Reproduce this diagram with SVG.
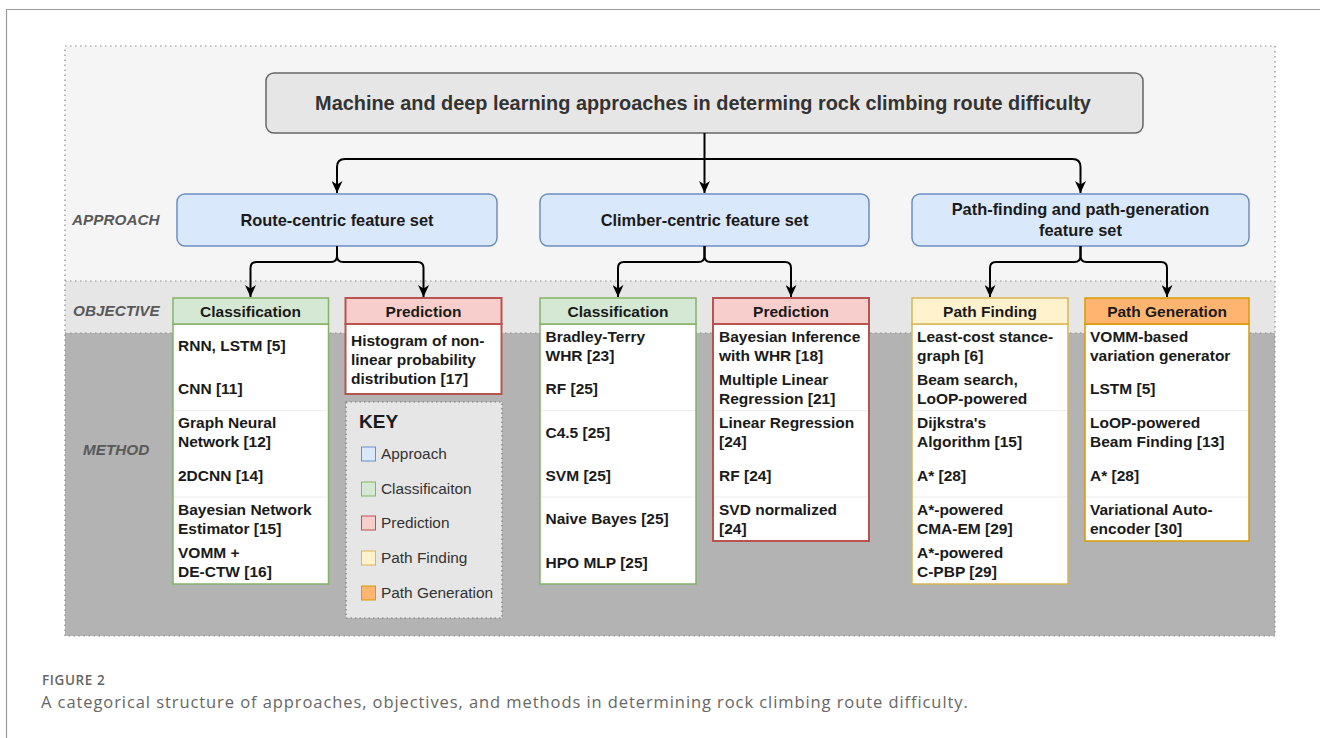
<svg xmlns="http://www.w3.org/2000/svg" width="1320" height="738" viewBox="0 0 1320 738">
<style>
.s{font-family:"Liberation Sans",Arial,sans-serif}
.t{font-family:"Liberation Sans",Arial,sans-serif;font-weight:bold;font-size:15.5px;fill:#1a1a1a}
.h{font-family:"Liberation Sans",Arial,sans-serif;font-weight:bold;font-size:15.5px;fill:#1a1a1a;text-anchor:middle}
.a{font-family:"Liberation Sans",Arial,sans-serif;font-weight:bold;font-size:16.4px;fill:#1a1a1a;text-anchor:middle}
.lvl{font-family:"Liberation Sans",Arial,sans-serif;font-weight:bold;font-style:italic;font-size:15.3px;fill:#595959}
.k{font-family:"Liberation Sans",Arial,sans-serif;font-size:15.4px;fill:#333}
.cap{font-family:"Open Sans",sans-serif}
.sep{stroke:#ececec;stroke-width:1}
.con{fill:none;stroke:#000;stroke-width:2;marker-end:url(#arr)}
.dot{fill:none;stroke:#8c8c8c;stroke-width:1.2;stroke-dasharray:1.5 3.5}
</style>
<defs>
<marker id="arr" viewBox="0 0 12 11" refX="12" refY="5.5" markerWidth="12" markerHeight="11" markerUnits="userSpaceOnUse" orient="auto">
<path d="M0,0 L12,5.5 L0,11 L3.5,5.5 Z" fill="#000"/>
</marker>
</defs>
<rect width="1320" height="738" fill="#fff"/>
<path d="M6.5,738 V9.5 H1320" fill="none" stroke="#9a9a9a" stroke-width="1.2"/>

<g id="bands">
<rect x="65" y="46" width="1210" height="235" fill="#f5f5f5"/>
<rect x="65" y="281" width="1210" height="52" fill="#e6e6e6"/>
<rect x="65" y="333" width="1210" height="303" fill="#b3b3b3"/>
<rect x="65" y="46" width="1210" height="590" class="dot"/>
<line x1="65" y1="281" x2="1275" y2="281" class="dot"/>
<line x1="65" y1="333" x2="1275" y2="333" class="dot"/>
<text class="lvl" x="72" y="224.5">APPROACH</text>
<text class="lvl" x="73" y="315.5">OBJECTIVE</text>
<text class="lvl" x="83" y="454.5">METHOD</text>
</g>

<g id="title">
<rect x="266" y="73" width="877" height="60" rx="8" fill="#e6e6e6" stroke="#666" stroke-width="1.5"/>
<text class="s" x="703" y="110" text-anchor="middle" font-weight="bold" font-size="19.9" fill="#333">Machine and deep learning approaches in determing rock climbing route difficulty</text>
</g>

<g id="approach-route">
<rect x="177" y="194" width="320" height="52" rx="8" fill="#dae8fc" stroke="#6c8ebf" stroke-width="1.5"/>
<text class="a" x="337" y="225.7">Route-centric feature set</text>
</g>
<g id="approach-climber">
<rect x="540" y="194" width="329" height="52" rx="8" fill="#dae8fc" stroke="#6c8ebf" stroke-width="1.5"/>
<text class="a" x="704.5" y="225.7">Climber-centric feature set</text>
</g>
<g id="approach-path">
<rect x="912" y="194" width="337" height="52" rx="8" fill="#dae8fc" stroke="#6c8ebf" stroke-width="1.5"/>
<text class="a" x="1080.5" y="214.7">Path-finding and path-generation</text>
<text class="a" x="1080.5" y="235.7">feature set</text>
</g>

<g id="connectors">
<path class="con" d="M704.5,133 V193"/>
<path class="con" d="M704.5,159 H345 Q337,159 337,167 V193"/>
<path class="con" d="M704.5,159 H1072.5 Q1080.5,159 1080.5,167 V193"/>
<path class="con" d="M337,246 V256 Q337,262 331,262 H256.5 Q250.5,262 250.5,268 V297"/>
<path class="con" d="M337,246 V256 Q337,262 343,262 H417.5 Q423.5,262 423.5,268 V297"/>
<path class="con" d="M704.5,246 V256 Q704.5,262 698.5,262 H624 Q618,262 618,268 V297"/>
<path class="con" d="M704.5,246 V256 Q704.5,262 710.5,262 H785 Q791,262 791,268 V297"/>
<path class="con" d="M1080.5,246 V256 Q1080.5,262 1074.5,262 H996 Q990,262 990,268 V297"/>
<path class="con" d="M1080.5,246 V256 Q1080.5,262 1086.5,262 H1161 Q1167,262 1167,268 V297"/>
</g>

<g id="class-route">
<rect x="173" y="324" width="155.5" height="260" fill="#fff" stroke="#82b366" stroke-width="1.5"/>
<line class="sep" x1="174" y1="410.7" x2="327.5" y2="410.7"/>
<line class="sep" x1="174" y1="497" x2="327.5" y2="497"/>
<rect x="173" y="298" width="155.5" height="26" fill="#d5e8d4" stroke="#82b366" stroke-width="1.5"/>
<text class="h" x="250.5" y="316.5">Classification</text>
<text class="t" x="178" y="351">RNN, LSTM [5]</text>
<text class="t" x="178" y="394.3">CNN [11]</text>
<text class="t" x="178" y="428.1">Graph Neural</text>
<text class="t" x="178" y="447.1">Network [12]</text>
<text class="t" x="178" y="481">2DCNN [14]</text>
<text class="t" x="178" y="514.8">Bayesian Network</text>
<text class="t" x="178" y="533.8">Estimator [15]</text>
<text class="t" x="178" y="558.1">VOMM +</text>
<text class="t" x="178" y="577.1">DE-CTW [16]</text>
</g>

<g id="pred-route">
<rect x="345.5" y="324" width="156" height="70" fill="#fff" stroke="#b85450" stroke-width="2"/>
<rect x="345.5" y="298" width="156" height="26" fill="#f8cecc" stroke="#b85450" stroke-width="2"/>
<text class="h" x="423.5" y="316.5">Prediction</text>
<text class="t" x="351" y="345.5">Histogram of non-</text>
<text class="t" x="351" y="364.5">linear probability</text>
<text class="t" x="351" y="383.5">distribution [17]</text>
</g>

<g id="key">
<rect x="346" y="402" width="156" height="216" fill="#e6e6e6" stroke="#777" stroke-width="1.2" stroke-dasharray="1.5 3"/>
<text class="s" x="359" y="428" font-weight="bold" font-size="19" fill="#1a1a1a">KEY</text>
<rect x="361.5" y="447" width="14" height="14" fill="#dae8fc" stroke="#6c8ebf"/>
<text class="k" x="381" y="459.3">Approach</text>
<rect x="361.5" y="482" width="14" height="14" fill="#d5e8d4" stroke="#82b366"/>
<text class="k" x="381" y="494.3">Classificaiton</text>
<rect x="361.5" y="516" width="14" height="14" fill="#f8cecc" stroke="#b85450"/>
<text class="k" x="381" y="528.3">Prediction</text>
<rect x="361.5" y="551" width="14" height="14" fill="#fff2cc" stroke="#d6b656"/>
<text class="k" x="381" y="563.3">Path Finding</text>
<rect x="361.5" y="586" width="14" height="14" fill="#ffb570" stroke="#d79b00"/>
<text class="k" x="381" y="598.3">Path Generation</text>
</g>

<g id="class-climber">
<rect x="540" y="324" width="156" height="260" fill="#fff" stroke="#82b366" stroke-width="1.5"/>
<line class="sep" x1="541" y1="410.7" x2="695" y2="410.7"/>
<line class="sep" x1="541" y1="497" x2="695" y2="497"/>
<rect x="540" y="298" width="156" height="26" fill="#d5e8d4" stroke="#82b366" stroke-width="1.5"/>
<text class="h" x="618" y="316.5">Classification</text>
<text class="t" x="545.5" y="341.5">Bradley-Terry</text>
<text class="t" x="545.5" y="360.5">WHR [23]</text>
<text class="t" x="545.5" y="394.3">RF [25]</text>
<text class="t" x="545.5" y="437.6">C4.5 [25]</text>
<text class="t" x="545.5" y="481">SVM [25]</text>
<text class="t" x="545.5" y="524.3">Naive Bayes [25]</text>
<text class="t" x="545.5" y="567.6">HPO MLP [25]</text>
</g>

<g id="pred-climber">
<rect x="713" y="324" width="156" height="217" fill="#fff" stroke="#b85450" stroke-width="2"/>
<line class="sep" x1="714" y1="410.7" x2="868" y2="410.7"/>
<line class="sep" x1="714" y1="497" x2="868" y2="497"/>
<rect x="713" y="298" width="156" height="26" fill="#f8cecc" stroke="#b85450" stroke-width="2"/>
<text class="h" x="791" y="316.5">Prediction</text>
<text class="t" x="719" y="341.5">Bayesian Inference</text>
<text class="t" x="719" y="360.5">with WHR [18]</text>
<text class="t" x="719" y="384.8">Multiple Linear</text>
<text class="t" x="719" y="403.8">Regression [21]</text>
<text class="t" x="719" y="428.1">Linear Regression</text>
<text class="t" x="719" y="447.1">[24]</text>
<text class="t" x="719" y="481">RF [24]</text>
<text class="t" x="719" y="514.8">SVD normalized</text>
<text class="t" x="719" y="533.8">[24]</text>
</g>

<g id="path-finding">
<rect x="912" y="324" width="156" height="260" fill="#fff" stroke="#d6b656" stroke-width="1.5"/>
<line class="sep" x1="913" y1="410.7" x2="1067" y2="410.7"/>
<line class="sep" x1="913" y1="497" x2="1067" y2="497"/>
<rect x="912" y="298" width="156" height="26" fill="#fff2cc" stroke="#d6b656" stroke-width="1.5"/>
<text class="h" x="990" y="316.5">Path Finding</text>
<text class="t" x="917" y="341.5">Least-cost stance-</text>
<text class="t" x="917" y="360.5">graph [6]</text>
<text class="t" x="917" y="384.8">Beam search,</text>
<text class="t" x="917" y="403.8">LoOP-powered</text>
<text class="t" x="917" y="428.1">Dijkstra's</text>
<text class="t" x="917" y="447.1">Algorithm [15]</text>
<text class="t" x="917" y="481">A* [28]</text>
<text class="t" x="917" y="514.8">A*-powered</text>
<text class="t" x="917" y="533.8">CMA-EM [29]</text>
<text class="t" x="917" y="558.1">A*-powered</text>
<text class="t" x="917" y="577.1">C-PBP [29]</text>
</g>

<g id="path-generation">
<rect x="1085" y="324" width="164" height="217" fill="#fff" stroke="#d79b00" stroke-width="1.5"/>
<line class="sep" x1="1086" y1="410.7" x2="1248" y2="410.7"/>
<line class="sep" x1="1086" y1="497" x2="1248" y2="497"/>
<rect x="1085" y="298" width="164" height="26" fill="#ffb570" stroke="#d79b00" stroke-width="1.5"/>
<text class="h" x="1167" y="316.5">Path Generation</text>
<text class="t" x="1090" y="341.5">VOMM-based</text>
<text class="t" x="1090" y="360.5">variation generator</text>
<text class="t" x="1090" y="394.3">LSTM [5]</text>
<text class="t" x="1090" y="428.1">LoOP-powered</text>
<text class="t" x="1090" y="447.1">Beam Finding [13]</text>
<text class="t" x="1090" y="481">A* [28]</text>
<text class="t" x="1090" y="514.8">Variational Auto-</text>
<text class="t" x="1090" y="533.8">encoder [30]</text>
</g>

<g id="caption">
<text class="cap" x="42" y="685" font-size="13.5" font-weight="600" letter-spacing="0.6" fill="#666">FIGURE 2</text>
<text class="cap" x="41" y="708" font-size="16.5" letter-spacing="0.92" fill="#666">A categorical structure of approaches, objectives, and methods in determining rock climbing route difficulty.</text>
</g>
</svg>
